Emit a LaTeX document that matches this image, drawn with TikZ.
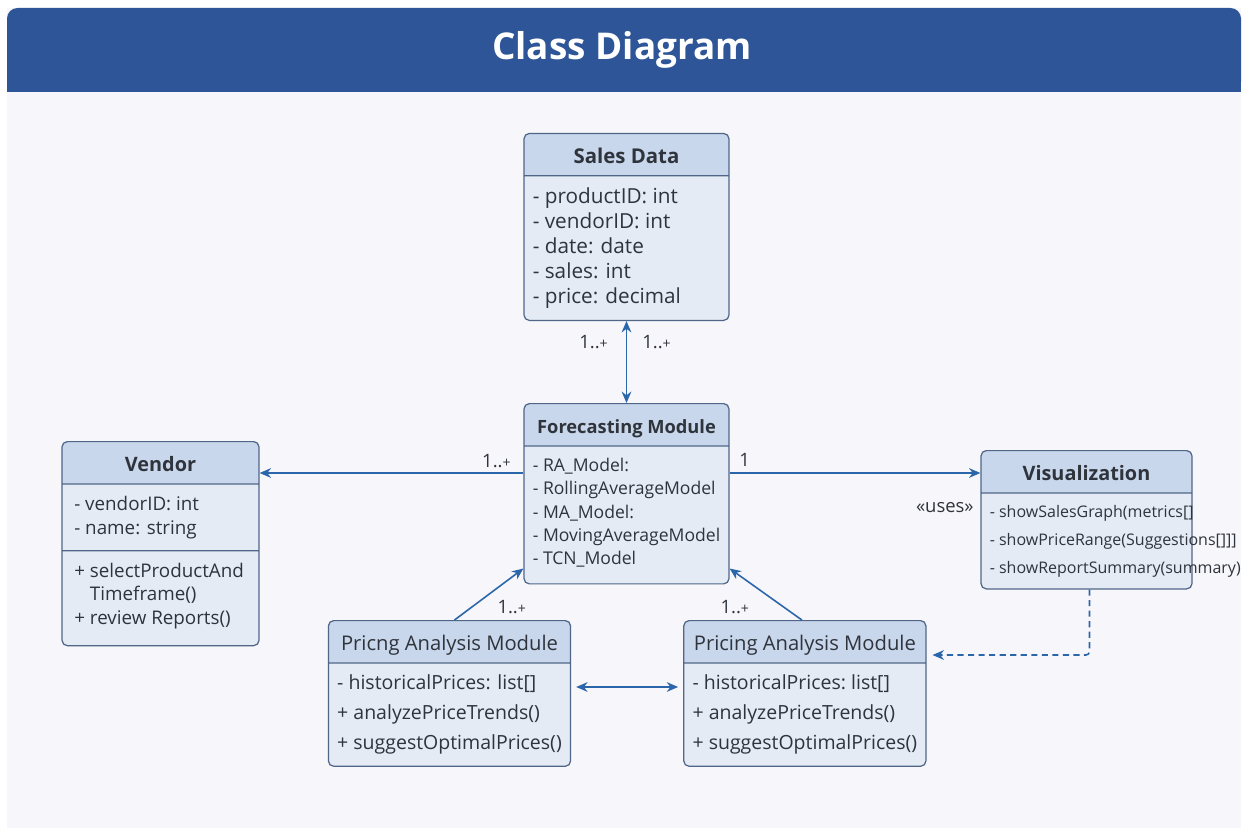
\documentclass[tikz,border=0pt]{standalone}
\usepackage{fontspec}
\setmainfont{Open Sans}
\usepackage{tikz}
\usetikzlibrary{positioning,shapes.multipart,arrows.meta}
\definecolor{DiagBlue}{HTML}{2E5597}
\definecolor{PageTint}{HTML}{F7F6FA}
\definecolor{ClassHead}{HTML}{C8D7EB}
\definecolor{ClassBody}{HTML}{E4EBF5}
\definecolor{ClassLine}{HTML}{4F6688}
\definecolor{LinkBlue}{HTML}{2B66AA}
\definecolor{InkGrey}{HTML}{2F343C}
\newcommand{\clsname}[2][11]{\raisebox{0pt}[10.4pt][0pt]{\fontsize{#1}{13}\selectfont\bfseries #2}}
\newcommand{\clsplain}[2][11]{\raisebox{0pt}[10.4pt][0pt]{\fontsize{#1}{13}\selectfont #2}}
\newcommand{\many}{1..{\footnotesize +}}

\begin{document}
\begin{tikzpicture}[>={Stealth[length=6.5pt,width=5.5pt]},x=0.02cm,y=-0.02cm,node distance=3mm]
  \tikzstyle{umlclass}=[rectangle split,rectangle split parts=2,
    draw=ClassLine,line width=0.7pt,rounded corners=3pt,
    rectangle split part fill={ClassHead,ClassBody},
    rectangle split part align={center,left},align=left,
    anchor=north,text=InkGrey,inner xsep=5pt,inner ysep=6.5pt]
  \tikzstyle{link}=[line width=0.9pt,color=LinkBlue]
  \tikzstyle{mult}=[font=\fontsize{10.5}{12}\selectfont,text=InkGrey,inner sep=0pt]
  % page and title band
  \useasboundingbox (0,0) rectangle (1248,831);
  \fill[white] (0,0) rectangle (1248,831);
  \fill[PageTint] (7,8) rectangle (1241,828);
  \fill[DiagBlue,rounded corners=6pt] (7,8) rectangle (1241,92);
  \fill[DiagBlue] (7,50) rectangle (1241,92);
  \node[font=\fontsize{21}{24}\selectfont\bfseries,text=white] (title) at (622,50) {Class Diagram};
  % classes
  \node[umlclass,minimum width=4.1cm,font=\fontsize{10}{13.3}\selectfont] (fm) at (626.5,403)
    {\clsname[10.4]{Forecasting Module}\nodepart{two}- RA\_Model:\\- RollingAverageModel\\- MA\_Model:\\- MovingAverageModel\\- TCN\_Model\rule[-4pt]{0pt}{0pt}};
  \node[umlclass,minimum width=4.1cm,font=\fontsize{11.8}{14.2}\selectfont,above=1.64cm of fm] (sd)
    {\clsname[11.6]{Sales Data}\nodepart{two}- productID: int\\- vendorID: int\\- date: date\\- sales: int\\- price: decimal};
  \node[umlclass,rectangle split parts=3,rectangle split part fill={ClassHead,ClassBody,ClassBody},
    rectangle split part align={center,left,left},minimum width=3.94cm,inner xsep=7pt,
    font=\fontsize{10.7}{13.6}\selectfont] (ven) at (160.5,441)
    {\clsname[11.3]{Vendor}\nodepart{two}- vendorID: int\\- name: string
     \nodepart{three}+ selectProductAnd\\\hphantom{+ }Timeframe()\\+ review Reports()\rule[-5pt]{0pt}{0pt}};
  \node[umlclass,minimum width=4.22cm,font=\fontsize{9.1}{15.9}\selectfont] (vis) at (1086.5,450)
    {\clsname[11.3]{Visualization}\nodepart{two}\rlap{- showSalesGraph(metrics[]}\\\rlap{- showPriceRange(Suggestions[]]]}\\\rlap{- showReportSummary(summary)}};
  \node[umlclass,minimum width=4.82cm,font=\fontsize{11.1}{17}\selectfont] (pl) at (449.5,620)
    {\clsplain[11.5]{Pricng Analysis Module}\nodepart{two}- historicalPrices: list[]\\+ analyzePriceTrends()\\+ suggestOptimalPrices()};
  \node[umlclass,minimum width=4.84cm,font=\fontsize{11.1}{17}\selectfont,right=2.24cm of pl] (pr)
    {\clsplain[11.5]{Pricing Analysis Module}\nodepart{two}- historicalPrices:~list[]\\+ analyzePriceTrends()\\+ suggestOptimalPrices()};
  % associations
  \draw[<->,link] (sd.south) node[mult,below left=0.27cm and 0.36cm] (m1) {\many}
    node[mult,below right=0.27cm and 0.3cm] (m2) {\many} -- (fm.north);
  \draw[->,link] (fm.west |- 0,473) node[mult,above left=0.08cm and 0.24cm] (m3) {\many} -- (ven.east |- 0,473);
  \draw[->,link] (fm.east |- 0,473) node[mult,above right=0.12cm and 0.18cm] (m4) {1}
    -- (vis.west |- 0,473) node[mult,below left=0.58cm and 0.12cm] (uses) {«uses»};
  \draw[->,link] ([xshift=0.1cm]pl.north) -- node[mult,pos=0.25,right=0.5cm] (m5) {\many} ([yshift=0.32cm]fm.south west);
  \draw[->,link] ([xshift=-0.06cm]pr.north) -- node[mult,pos=0.25,left=0.68cm] (m6) {\many} ([yshift=0.32cm]fm.south east);
  \draw[<->,link,shorten <=0.1cm,shorten >=0.1cm] (pl.east |- 0,687) -- (pr.west |- 0,687);
  \draw[->,link,dash pattern=on 3.5pt off 2.5pt,rounded corners=2pt] ([xshift=0.06cm]vis.south) |- ([xshift=0.12cm]pr.east |- 0,655);
\end{tikzpicture}
\end{document}
